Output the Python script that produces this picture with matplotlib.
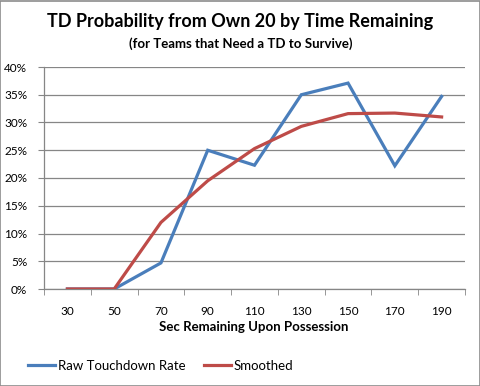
import matplotlib
matplotlib.use("Agg")
import matplotlib.pyplot as plt
from matplotlib.patches import Rectangle
from matplotlib.lines import Line2D

categories = ["30", "50", "70", "90", "110", "130", "150", "170", "190"]
raw_rate = [0.0, 0.0, 4.7, 25.0, 22.3, 35.0, 37.1, 22.2, 34.7]
smoothed = [0.0, 0.0, 12.0, 19.5, 25.3, 29.3, 31.6, 31.7, 31.0]
y_ticks = [0, 5, 10, 15, 20, 25, 30, 35, 40]

plt.rcParams['font.family'] = ['Lato', 'DejaVu Sans']

fig = plt.figure(figsize=(4.81, 3.86), dpi=100)
fig.patch.set_facecolor('white')
fig.add_artist(Rectangle((0.001, 0.001), 0.997, 0.996, transform=fig.transFigure,
                         fill=False, edgecolor='#8c8c8c', linewidth=1.2))

ax = fig.add_axes([44/481, 1-289/386, 421/481, 222/386])
x = list(range(len(categories)))
blue = '#4A7EBB'
red = '#BE4B48'
ax.plot(x, raw_rate, color=blue, lw=2.3, solid_joinstyle='miter', zorder=3)
ax.plot(x, smoothed, color=red, lw=2.3, zorder=4)

ax.set_xlim(-0.5, len(categories) - 0.5)
ax.set_ylim(0, 40)
ax.set_yticks(y_ticks)
ax.set_yticklabels([f"{v}%" for v in y_ticks])
ax.set_xticks(x)
ax.set_xticklabels(categories)
ax.set_xticks([i - 0.5 for i in range(len(categories) + 1)], minor=True)
ax.tick_params(axis='x', which='major', length=0, pad=12, labelsize=8.5, colors='#000000')
ax.tick_params(axis='x', which='minor', length=4, color='#868686', direction='out')
ax.tick_params(axis='y', length=4, color='#868686', labelsize=8.5, pad=8)
ax.grid(axis='y', color='#868686', lw=0.9)
ax.set_axisbelow(True)
for s in ['top', 'right']:
    ax.spines[s].set_visible(False)
for s in ['left', 'bottom']:
    ax.spines[s].set_color('#868686')
    ax.spines[s].set_linewidth(0.9)

fig.text(0.5, 1-22/386, "TD Probability from Own 20 by Time Remaining", ha='center', va='center',
         fontsize=13, fontweight='bold')
fig.text(0.5, 1-44/386, "(for Teams that Need a TD to Survive)", ha='center', va='center',
         fontsize=9.5, fontweight='bold')
fig.text(254/481, 1-327/386, "Sec Remaining Upon Possession", ha='center', va='center',
         fontsize=9.5, fontweight='bold')

handles = [Line2D([], [], color=blue, lw=2.3), Line2D([], [], color=red, lw=2.3)]
fig.legend(handles, ["Raw Touchdown Rate", "Smoothed"], loc='center', bbox_to_anchor=(161/481, 1-366/386),
           ncol=2, frameon=False, fontsize=9.5, handlelength=2.0, handletextpad=0.25, columnspacing=1.4)

fig.savefig("out.png", dpi=100, facecolor='white')
